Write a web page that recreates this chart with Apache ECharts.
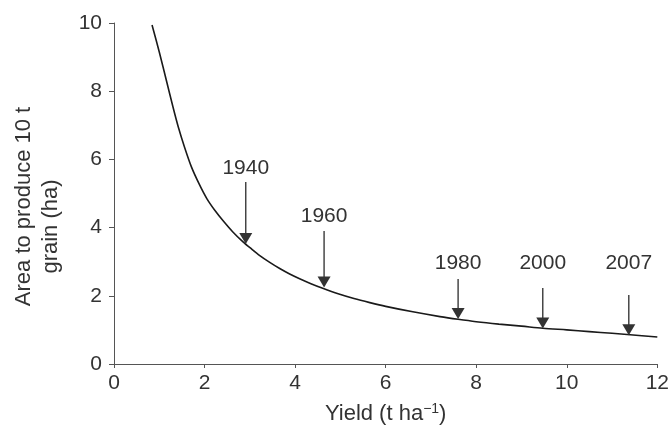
<!DOCTYPE html>
<html>
<head>
<meta charset="utf-8">
<script src="https://cdn.jsdelivr.net/npm/echarts@6/dist/echarts.min.js"></script>
<style>html,body{margin:0;padding:0;background:#fff}#c{width:672px;height:431px}</style>
</head>
<body>
<div id="c"></div>
<script>
// Curve: yield (t/ha) -> area (ha)
const curveX = [0.84, 1.0, 1.16, 1.3, 1.42, 1.56, 1.71, 1.88, 2.05, 2.23, 2.41, 2.62, 2.85, 3.03, 3.22, 3.44, 3.66, 3.88, 4.1, 4.35, 4.61, 4.95, 5.3, 5.65, 6.0, 6.6, 7.2, 7.6, 8.0, 8.5, 9.0, 9.47, 10.0, 10.5, 11.0, 11.4, 12.0];
const curveY = [9.94, 9.15, 8.3, 7.55, 6.95, 6.35, 5.78, 5.28, 4.85, 4.5, 4.2, 3.88, 3.58, 3.38, 3.18, 2.98, 2.8, 2.64, 2.5, 2.355, 2.22, 2.06, 1.92, 1.8, 1.69, 1.53, 1.39, 1.31, 1.24, 1.17, 1.11, 1.05, 1.0, 0.95, 0.9, 0.86, 0.79];

// Arrow annotations
const years = ['1940', '1960', '1980', '2000', '2007'];
const arrowX = [2.91, 4.64, 7.6, 9.47, 11.37];
const arrowTop = [5.34, 3.9, 2.49, 2.23, 2.02];
const arrowTip = [3.52, 2.24, 1.32, 1.04, 0.84];
const labelY = [5.75, 4.34, 2.96, 2.96, 2.96];

const font = '"Liberation Sans", Arial, sans-serif';
const textColor = '#333';
const axisColor = '#555';

const chart = echarts.init(document.getElementById('c'), null, {renderer: 'canvas'});
chart.setOption({
  animation: false,
  backgroundColor: '#fff',
  grid: {left: 114, right: 14, top: 23, bottom: 67},
  xAxis: {
    type: 'value', min: 0, max: 12, interval: 2,
    name: 'Yield (t ha{sup|−1})',
    nameLocation: 'middle', nameGap: 38,
    nameTextStyle: {fontFamily: font, fontSize: 22, color: textColor,
      rich: {sup: {fontFamily: font, fontSize: 14, color: textColor, verticalAlign: 'top', padding: [0, 0, 9, 0]}}},
    axisLine: {lineStyle: {color: axisColor, width: 1}},
    axisTick: {show: true, length: 4, lineStyle: {color: axisColor}},
    axisLabel: {fontFamily: font, fontSize: 21, color: textColor, margin: 9},
    splitLine: {show: false}
  },
  yAxis: {
    type: 'value', min: 0, max: 10, interval: 2,
    name: '{a|Area to produce 10 t}\n{b|grain (ha)}',
    nameLocation: 'middle', nameGap: 50,
    nameTextStyle: {fontFamily: font, fontSize: 22, color: textColor, padding: [0, 26, 0, 0],
      rich: {
        a: {fontFamily: font, fontSize: 22, color: textColor, lineHeight: 27},
        b: {fontFamily: font, fontSize: 22, color: textColor, lineHeight: 27, padding: [0, 40, 0, 0]}
      }},
    axisLine: {show: true, lineStyle: {color: axisColor, width: 1}},
    axisTick: {show: true, length: 5, lineStyle: {color: axisColor}},
    axisLabel: {fontFamily: font, fontSize: 21, color: textColor, margin: 12},
    splitLine: {show: false}
  },
  series: [
    {
      type: 'line',
      data: curveX.map((x, i) => [x, curveY[i]]),
      smooth: 0.3,
      showSymbol: false,
      lineStyle: {color: '#1a1a1a', width: 1.6},
      z: 2
    },
    {
      type: 'custom',
      data: years.map((y, i) => [arrowX[i], arrowTop[i], arrowTip[i], labelY[i], i]),
      renderItem: function (params, api) {
        const x = api.value(0);
        const top = api.coord([x, api.value(1)]);
        const tip = api.coord([x, api.value(2)]);
        const lab = api.coord([x, api.value(3)]);
        const idx = api.value(4);
        const hw = 6.5, hh = 11;
        return {
          type: 'group',
          children: [
            {type: 'line', shape: {x1: top[0], y1: top[1], x2: tip[0], y2: tip[1] - hh + 1},
              style: {stroke: '#3a3a3a', lineWidth: 1.4}},
            {type: 'polygon', shape: {points: [[tip[0] - hw, tip[1] - hh], [tip[0] + hw, tip[1] - hh], [tip[0], tip[1]]]},
              style: {fill: '#333'}},
            {type: 'text', style: {text: years[idx], x: lab[0], y: lab[1], align: 'center', verticalAlign: 'middle',
              font: '21px ' + font, fill: textColor}}
          ]
        };
      },
      z: 3
    }
  ]
});
</script>
</body>
</html>
